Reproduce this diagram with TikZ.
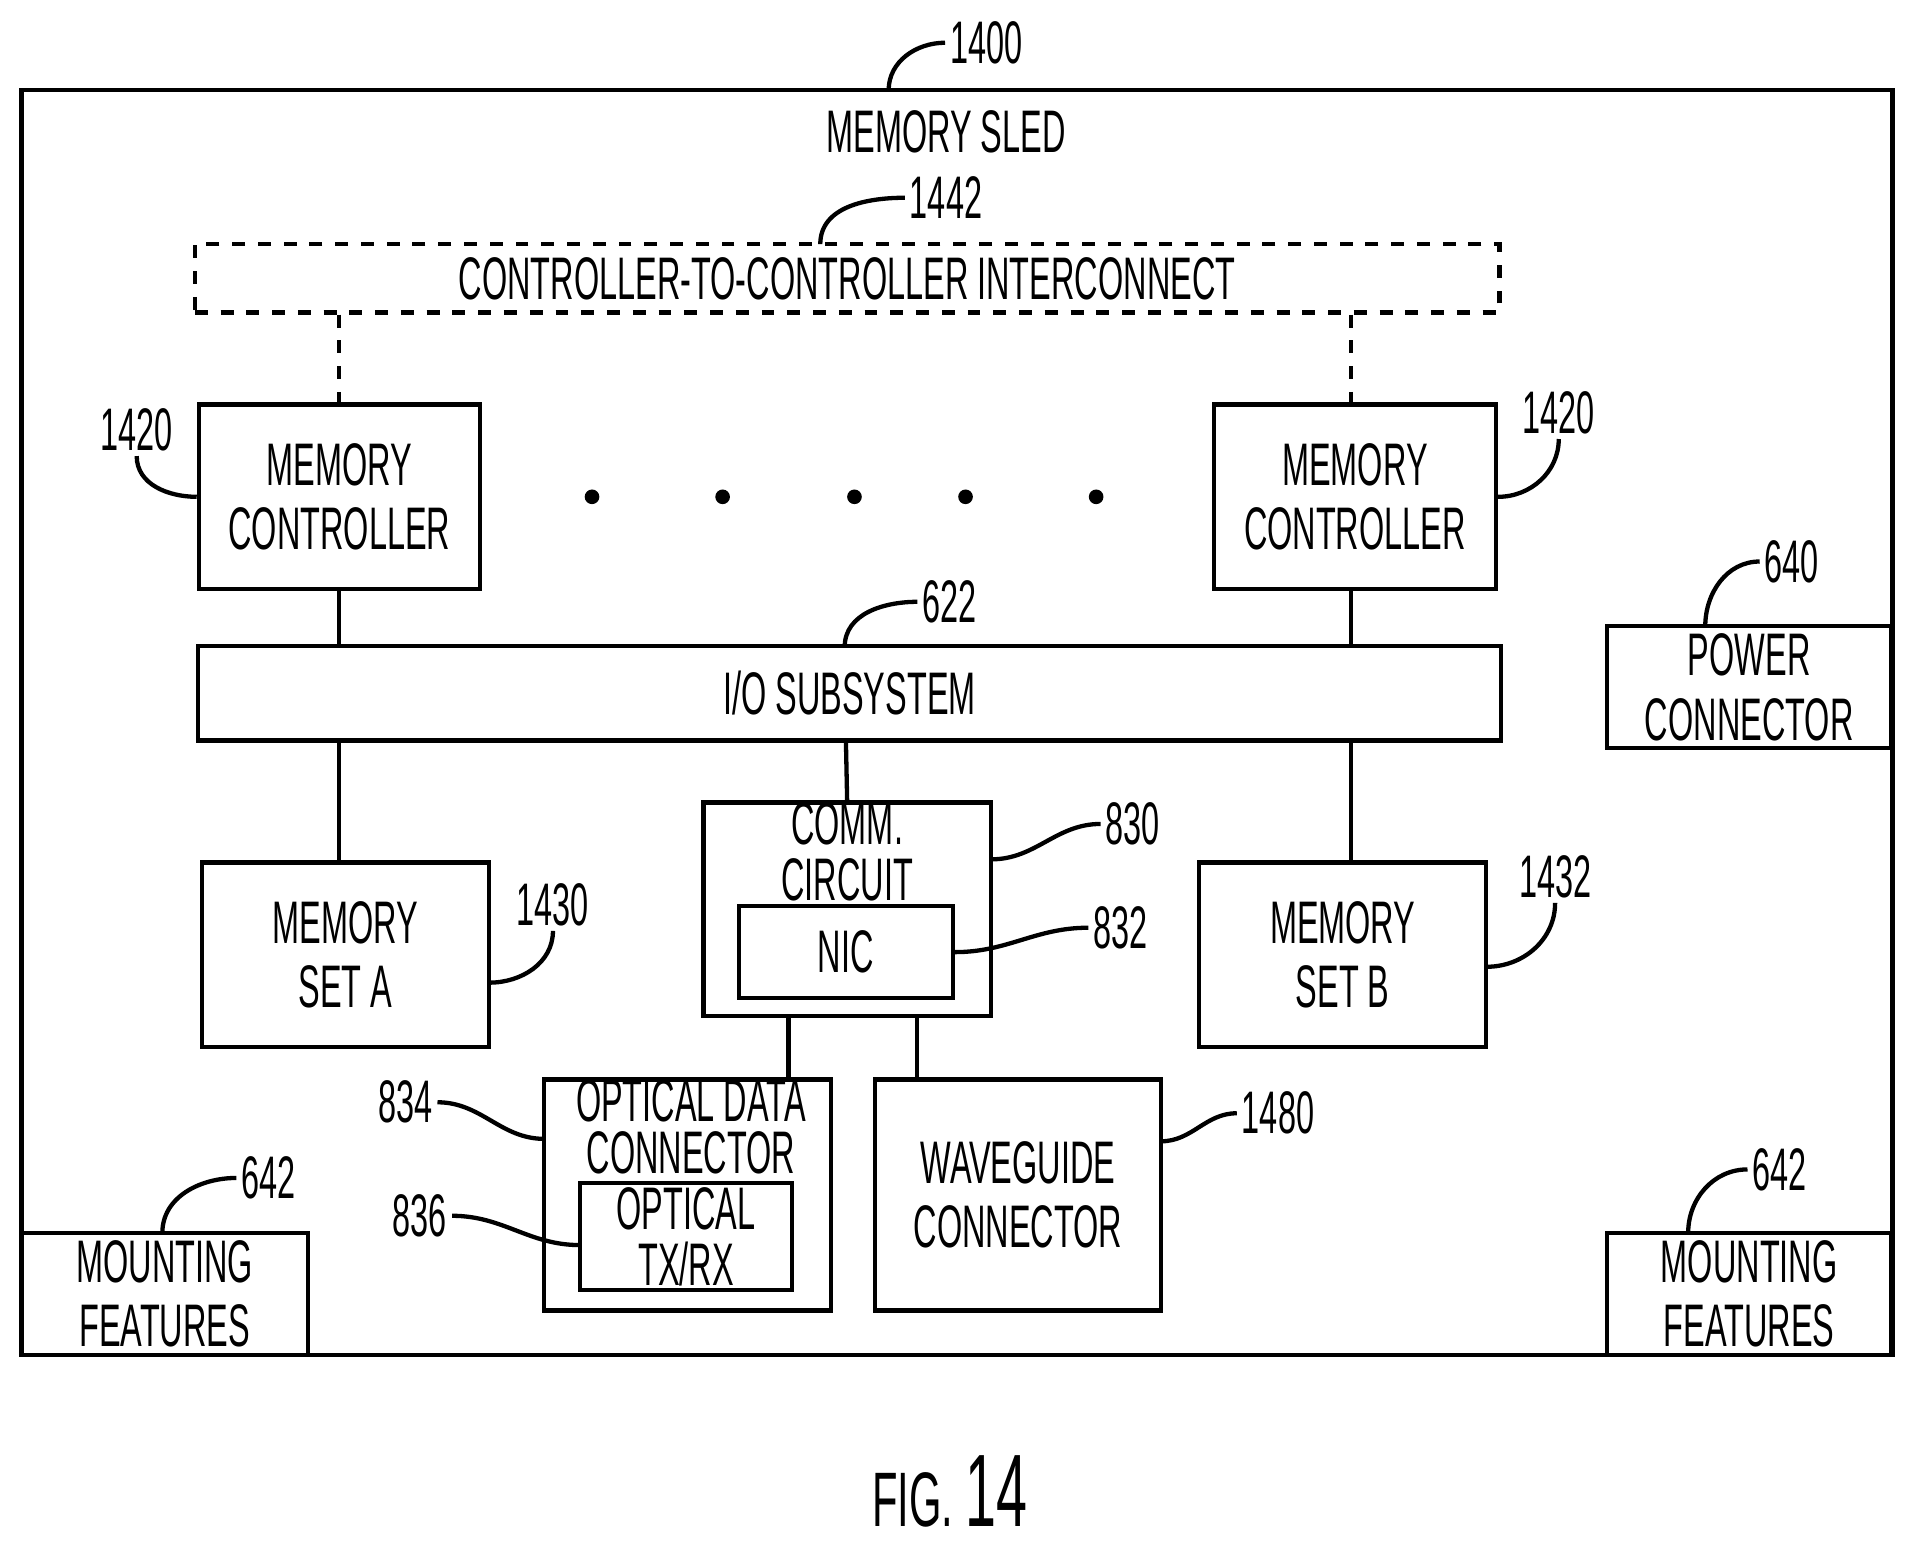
\documentclass[tikz,border=0pt]{standalone}
\usepackage{fontspec}
\setmainfont[FakeStretch=0.54]{Liberation Sans}
\usetikzlibrary{positioning}
\tikzset{
  box/.style={draw,line width=1pt,align=center,inner sep=0pt,font=\fontsize{14}{15}\selectfont},
  lbl/.style={font=\fontsize{14}{15}\selectfont,inner sep=1pt},
  lead/.style={line width=1pt},
  wire/.style={line width=1pt}
}
\begin{document}
\begin{tikzpicture}[x=0.01cm,y=-0.01cm]
  \useasboundingbox (0,0) rectangle (1568,1266);
  % outer sled
  \node[box,minimum width=15.32cm,minimum height=10.36cm] (sled) at (784,592) {};
  \node[lbl] (sledtxt) at (775,108) {MEMORY SLED};
  \node[lbl] (n1400) at (808,35) {1400};
  \draw[lead] (728,74) to[out=90,in=180] (n1400.west);
  % interconnect
  \node[box,dashed,minimum width=10.68cm,minimum height=0.56cm] (cci) at (694,228) {CONTROLLER-TO-CONTROLLER INTERCONNECT};
  \node[lbl] (n1442) at (775,162) {1442};
  \draw[lead] (672,200) to[out=90,in=180] (n1442.west);
  % memory controllers
  \node[box,minimum width=2.30cm,minimum height=1.51cm] (mcA) at (278,407) {MEMORY\\CONTROLLER};
  \node[box,minimum width=2.31cm,minimum height=1.51cm] (mcB) at (1110,407) {MEMORY\\CONTROLLER};
  \node[lbl] (n1420a) at (112,352) {1420};
  \node[lbl] (n1420b) at (1277,338) {1420};
  \draw[lead] (mcA.west) to[out=180,in=270] (n1420a.south);
  \draw[lead] (mcB.east) to[out=0,in=270] (n1420b.south);
  \draw[wire,dashed] (cci.south -| 278,0) -- (mcA.north);
  \draw[wire,dashed] (cci.south -| 1107,0) -- (1107,332);
  \foreach \x in {485,592,700,791,898}
    \fill (\x,407) circle (6);
  % i/o subsystem
  \node[box,minimum width=10.67cm,minimum height=0.77cm] (io) at (696,568) {I/O SUBSYSTEM};
  \node[lbl] (n622) at (778,493) {622};
  \draw[lead] (692,530) to[out=90,in=180] (n622.west);
  \draw[wire] (mcA.south) -- (278,530);
  \draw[wire] (1107,483) -- (1107,530);
  % memory sets
  \node[box,minimum width=2.35cm,minimum height=1.51cm] (msA) at (283,782) {MEMORY\\SET A};
  \node[box,minimum width=2.35cm,minimum height=1.51cm] (msB) at (1100,782) {MEMORY\\SET B};
  \node[lbl] (n1430) at (453,741) {1430};
  \node[lbl] (n1432) at (1274,718) {1432};
  \draw[lead] (401,805) to[out=0,in=270] (n1430.south);
  \draw[lead] (1218,792) to[out=0,in=270] (n1432.south);
  \draw[wire] (278,607) -- (278,707);
  \draw[wire] (1107,607) -- (1107,707);
  % comm circuit
  \node[box,minimum width=2.35cm,minimum height=1.75cm] (comm) at (694,745) {};
  \node[lbl,align=center] (commtxt) at (694,698) {COMM.\\[-2pt]CIRCUIT};
  \node[box,minimum width=1.75cm,minimum height=0.75cm] (nic) at (693,780) {NIC};
  \node[lbl] (n830) at (928,675) {830};
  \node[lbl] (n832) at (918,760) {832};
  \draw[lead] (812,704) to[out=0,in=180] (n830.west);
  \draw[lead] (nic.east) to[out=0,in=180] (n832.west);
  \draw[wire] (693,607) -- (comm.north);
  % optical data connector
  \node[box,minimum width=2.35cm,minimum height=1.89cm] (odc) at (563,979) {};
  \node[lbl,align=center] (odctxt) at (566,923) {OPTICAL DATA\\[-3pt]CONNECTOR};
  \node[box,minimum width=1.74cm,minimum height=0.88cm,align=center] (trx) at (562,1013) {OPTICAL\\[-2pt]TX/RX};
  \node[lbl] (n834) at (332,903) {834};
  \node[lbl] (n836) at (344,996) {836};
  \draw[lead] (446,933) to[out=180,in=0] (n834.east);
  \draw[lead] (475,1020) to[out=180,in=0] (n836.east);
  \draw[wire] (646,833) -- (646,885);
  % waveguide connector
  \node[box,minimum width=2.34cm,minimum height=1.89cm] (wg) at (834,979) {WAVEGUIDE\\CONNECTOR};
  \node[lbl] (n1480) at (1047,912) {1480};
  \draw[lead] (951,935) to[out=0,in=180] (n1480.west);
  \draw[wire] (751,833) -- (751,885);
  % power connector
  \node[box,minimum width=2.33cm,minimum height=1.00cm] (pwr) at (1433,563) {POWER\\CONNECTOR};
  \node[lbl] (n640) at (1468,460) {640};
  \draw[lead] (1397,513) to[out=90,in=180] (n640.west);
  % mounting features
  \node[box,minimum width=2.34cm,minimum height=1.00cm] (mfA) at (135,1060) {MOUNTING\\FEATURES};
  \node[box,minimum width=2.33cm,minimum height=1.00cm] (mfB) at (1433,1060) {MOUNTING\\FEATURES};
  \node[lbl] (n642a) at (220,965) {642};
  \node[lbl] (n642b) at (1458,958) {642};
  \draw[lead] (133,1010) to[out=90,in=180] (n642a.west);
  \draw[lead] (1383,1010) to[out=90,in=180] (n642b.west);
  % caption
  \node[font=\fontsize{18}{20}\selectfont] (fig) at (778,1222) {FIG. \fontsize{24}{26}\selectfont 14};
\end{tikzpicture}
\end{document}
